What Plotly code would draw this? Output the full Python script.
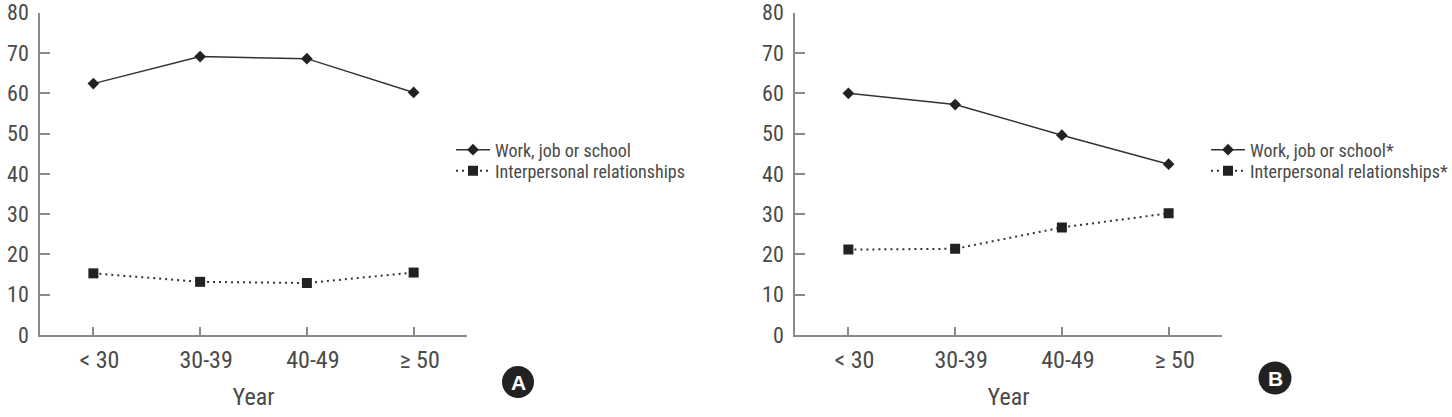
import plotly.graph_objects as go

categories = ["< 30", "30-39", "40-49", "≥ 50"]
work_a = [62.4, 69.1, 68.6, 60.2]
inter_a = [15.3, 13.2, 12.9, 15.5]
work_b = [60.0, 57.2, 49.6, 42.4]
inter_b = [21.2, 21.4, 26.7, 30.2]
names_a = ["Work, job or school", "Interpersonal relationships"]
names_b = ["Work, job or school*", "Interpersonal relationships*"]
y_ticks = [0, 10, 20, 30, 40, 50, 60, 70, 80]
panel_labels = ["A", "B"]

FONT = "Liberation Sans Narrow, Roboto Condensed, Arial Narrow, Roboto, sans-serif"
TXT = "#4a4a4a"
AX = "#8a8a8a"
LINE = "#333333"
MK = "#222222"

W, H = 1452, 417

fig = go.Figure()

def add_panel(xa, ya, legends, work, inter, names):
    fig.add_trace(go.Scatter(
        x=categories, y=work, name=names[0], mode="lines+markers",
        line=dict(color=LINE, width=1.5),
        marker=dict(symbol="diamond", size=9, color=MK),
        xaxis=xa, yaxis=ya, legend=legends[0]))
    fig.add_trace(go.Scatter(
        x=categories, y=inter, name=names[1], mode="lines+markers",
        line=dict(color=LINE, width=2, dash="2px,4px"),
        marker=dict(symbol="square", size=10, color=MK),
        xaxis=xa, yaxis=ya, legend=legends[1]))

add_panel("x", "y", ["legend", "legend2"], work_a, inter_a, names_a)
add_panel("x2", "y2", ["legend3", "legend4"], work_b, inter_b, names_b)

ydom = [1 - 335 / H, 1 - 12.7 / H]
xdomA = [40 / W, 467 / W]
xdomB = [795 / W, 1222 / W]

xcommon = dict(
    type="category", range=[-0.5, 3.5], showline=True, linecolor=AX, linewidth=1.5,
    ticks="inside", ticklen=8, tickcolor=AX, tickwidth=1.5,
    tickfont=dict(family=FONT, size=24, color=TXT), showgrid=False, zeroline=False,
    ticklabelshift=6, ticklabelstandoff=2,
    title=dict(text="Year", font=dict(family=FONT, size=24, color=TXT), standoff=16),
    fixedrange=True,
)
ycommon = dict(
    range=[0, 80], tickvals=y_ticks, showline=True, linecolor=AX, linewidth=1.5,
    ticks="inside", ticklen=10, tickcolor=AX, tickwidth=1.5,
    tickfont=dict(family=FONT, size=22, color=TXT), showgrid=False, zeroline=False,
    ticklabelstandoff=5,
    domain=ydom, fixedrange=True,
)

def leg(xpx, ypx):
    return dict(x=xpx / W, y=1 - ypx / H, xanchor="left", yanchor="middle",
                font=dict(family=FONT, size=18, color=TXT), bgcolor="rgba(0,0,0,0)",
                itemclick=False, itemwidth=34)

fig.update_layout(
    width=W, height=H, margin=dict(l=0, r=0, t=0, b=0, pad=0, autoexpand=False),
    paper_bgcolor="white", plot_bgcolor="white",
    xaxis=dict(xcommon, domain=xdomA, anchor="y"),
    yaxis=dict(ycommon, anchor="x"),
    xaxis2=dict(xcommon, domain=xdomB, anchor="y2"),
    yaxis2=dict(ycommon, anchor="x2"),
    legend=leg(451, 150),
    legend2=leg(451, 171),
    legend3=leg(1206, 150),
    legend4=leg(1206, 171),
    showlegend=True,
)

circles = [(518, 382, 16), (1275, 378, 16.5)]
for (cx, cy, r), lab in zip(circles, panel_labels):
    fig.add_shape(type="circle", xref="paper", yref="paper",
                  x0=(cx - r) / W, x1=(cx + r) / W, y0=1 - (cy + r) / H, y1=1 - (cy - r) / H,
                  fillcolor="#222222", line=dict(width=0))
    fig.add_annotation(text="<b>" + lab + "</b>", xref="paper", yref="paper",
                       x=cx / W, y=1 - cy / H, xanchor="center", yanchor="middle",
                       showarrow=False,
                       font=dict(family="Liberation Sans, Arial, sans-serif", size=21, color="white"))

fig.write_html("out.html")
